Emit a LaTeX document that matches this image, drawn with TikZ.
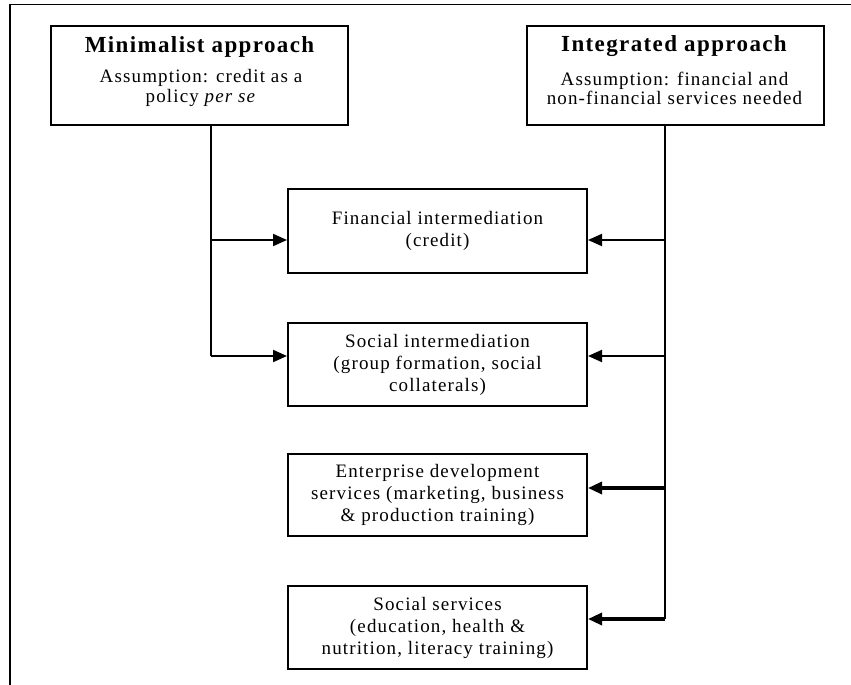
\documentclass[tikz,border=0pt]{standalone}
\usepackage{fontspec}
\setmainfont{Liberation Serif}[LetterSpace=6]
\usetikzlibrary{arrows.meta}
\begin{document}
\begin{tikzpicture}[x=1pt,y=-1pt,
  box/.style={draw=black, line width=2pt, inner sep=0pt, align=center,
    font=\fontsize{19}{22}\selectfont},
  topbox/.style={draw=black, line width=2pt, inner sep=0pt,
    minimum width=297pt, minimum height=99pt},
  lowbox/.style={box, minimum width=299pt},
  ttl/.style={font=\fontsize{23}{26}\selectfont\bfseries, inner sep=0pt},
  body/.style={font=\fontsize{19}{19.5}\selectfont, align=center, inner sep=0pt},
  conn/.style={line width=2pt},
  arr/.style={line width=2pt, -{Triangle[length=14pt,width=12pt]}},
  tarr/.style={line width=3.2pt, -{Triangle[length=14pt,width=12pt]}}]
\useasboundingbox (0,0) rectangle (851,685);
% frame
\draw[line width=1.6pt] (10,685) -- (10,4.5) -- (851,4.5);
% top boxes
\node[topbox] (minBox) at (199.5,75.5) {};
\node[ttl] (minT) at (199.5,46.5) {Minimalist approach};
\node[body] (minB) at (201,88) {Assumption: credit as a\\ policy \textit{per se}};
\node[topbox] (intBox) at (675.5,75.5) {};
\node[ttl] (intT) at (674,46) {Integrated approach};
\node[body] (intB) at (674.5,88.5) {Assumption: financial and\\ non-financial services needed};
% lower boxes
\node[lowbox, minimum height=84pt] (fin) at (437.5,231) {Financial intermediation\\ (credit)};
\node[lowbox, minimum height=83pt] (soc) at (437.5,364.5) {Social intermediation\\ (group formation, social\\ collaterals)};
\node[lowbox, minimum height=82pt] (ent) at (437.5,495) {Enterprise development\\ services (marketing, business\\ \& production training)};
\node[lowbox, minimum height=83pt] (ss) at (437.5,627.5) {Social services\\ (education, health \&\\ nutrition, literacy training)};
% bus coordinates
\coordinate (L1) at (211,240);
\coordinate (L2) at (211,356);
\coordinate (R1) at (665,240);
\coordinate (R2) at (665,356);
\coordinate (R3) at (665,488);
\coordinate (R4) at (665,619);
% left bus
\draw[conn] (minBox.south -| L1) -- (L2);
\draw[arr] (L1) -- (L1 -| fin.west);
\draw[arr] (L2) -- (L2 -| soc.west);
% right bus
\draw[conn] (intBox.south -| R1) -- (R4);
\draw[arr] (R1) -- (R1 -| fin.east);
\draw[arr] (R2) -- (R2 -| soc.east);
\draw[tarr] (R3) -- (R3 -| ent.east);
\draw[tarr] (R4) -- (R4 -| ss.east);
\end{tikzpicture}
\end{document}
